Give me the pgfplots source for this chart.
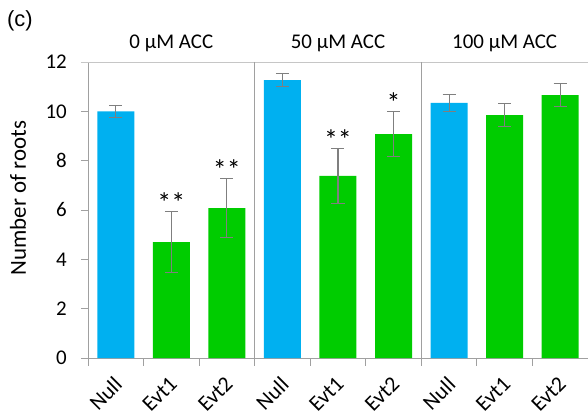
\documentclass[border=0pt]{standalone}
\usepackage{pgfplots}
\pgfplotsset{compat=1.18}
\usepackage{fontspec}
\setmainfont{Carlito}
\newfontfamily\arialfont{Liberation Sans}
\definecolor{nullblue}{HTML}{00B0F0}
\definecolor{evtgreen}{HTML}{00CC00}
\definecolor{axgray}{HTML}{A0A0A0}
\definecolor{errgray}{HTML}{7F7F7F}
\begin{document}
\begin{tikzpicture}
\useasboundingbox (-88bp,-59bp) rectangle (500bp,358bp);
\begin{axis}[
  at={(0,0)}, anchor=south west,
  scale only axis, width=500bp, height=296bp,
  xmin=0, xmax=9, ymin=0, ymax=12,
  axis x line*=bottom, axis y line*=left,
  axis line style={draw=axgray, line width=0.9bp},
  every outer x axis line/.append style={-},
  every outer y axis line/.append style={-},
  xtick={0.5,1.5,...,8.5},
  xticklabels={Null,Evt1,Evt2,Null,Evt1,Evt2,Null,Evt1,Evt2},
  minor xtick={0,1,...,9},
  x tick style={draw=none},
  minor x tick style={draw=axgray, line width=0.9bp},
  minor tick length=8bp,
  ytick={0,2,...,12},
  y tick style={draw=axgray, line width=0.9bp},
  major tick length=7bp,
  tick align=outside,
  xticklabel style={xshift=-3bp, yshift=-10bp, rotate=45, anchor=north east, inner sep=0pt, font=\fontsize{22}{24}\selectfont},
  yticklabel style={font=\fontsize{21}{24}\selectfont, inner sep=0pt, xshift=-14bp},
  /pgf/number format/assume math mode=true,
  ylabel={Number of roots},
  ylabel style={at={(axis description cs:-0.14,0.54)}, anchor=center, font=\fontsize{23}{26}\selectfont},
  clip=false,
  error bars/y dir=both, error bars/y explicit,
  error bars/error bar style={draw=errgray, line width=1.1bp},
  error bars/error mark options={rotate=90, mark size=6.5bp, draw=errgray, line width=1.1bp},
]
\addplot[ybar, bar shift=0pt, bar width=37bp, fill=nullblue, draw=none]
  coordinates {(0.5,10.00) +- (0,0.25) (3.5,11.27) +- (0,0.28) (6.5,10.34) +- (0,0.36)};
\addplot[ybar, bar shift=0pt, bar width=37bp, fill=evtgreen, draw=none]
  coordinates {(1.5,4.70) +- (0,1.25) (2.5,6.08) +- (0,1.21) (4.5,7.38) +- (0,1.13) (5.5,9.08) +- (0,0.92) (7.5,9.85) +- (0,0.45) (8.5,10.66) +- (0,0.47)};
\addplot[draw=none, mark=none, nodes near coords, point meta=explicit symbolic,
  every node near coord/.append style={font=\fontsize{28}{30}\selectfont, anchor=base, inner sep=0pt, yshift=-1bp}]
  coordinates {(1.5,5.95)[**] (2.5,7.29)[**] (4.5,8.51)[**] (5.5,10.00)[*]};
\draw[draw=axgray!60, line width=0.9bp] (axis cs:0,12) -- (axis cs:9,12);
\draw[draw=axgray!60, line width=0.9bp] (axis cs:0,12) -- ++(-7bp,0);
\draw[draw=axgray, line width=0.9bp] (axis cs:3,12) -- (axis cs:3,0) -- ++(0,-8bp);
\draw[draw=axgray, line width=0.9bp] (axis cs:6,12) -- (axis cs:6,0) -- ++(0,-8bp);
\node[anchor=base, font=\fontsize{21}{24}\selectfont] at ([yshift=13bp]axis cs:1.5,12) {0 μM ACC};
\node[anchor=base, font=\fontsize{21}{24}\selectfont] at ([yshift=13bp]axis cs:4.5,12) {50 μM ACC};
\node[anchor=base, font=\fontsize{21}{24}\selectfont] at ([yshift=13bp]axis cs:7.5,12) {100 μM ACC};
\end{axis}
\node[anchor=base west, inner sep=0pt, font=\arialfont\fontsize{22}{24}\selectfont] at (-81bp,331bp) {(c)};
\end{tikzpicture}
\end{document}
